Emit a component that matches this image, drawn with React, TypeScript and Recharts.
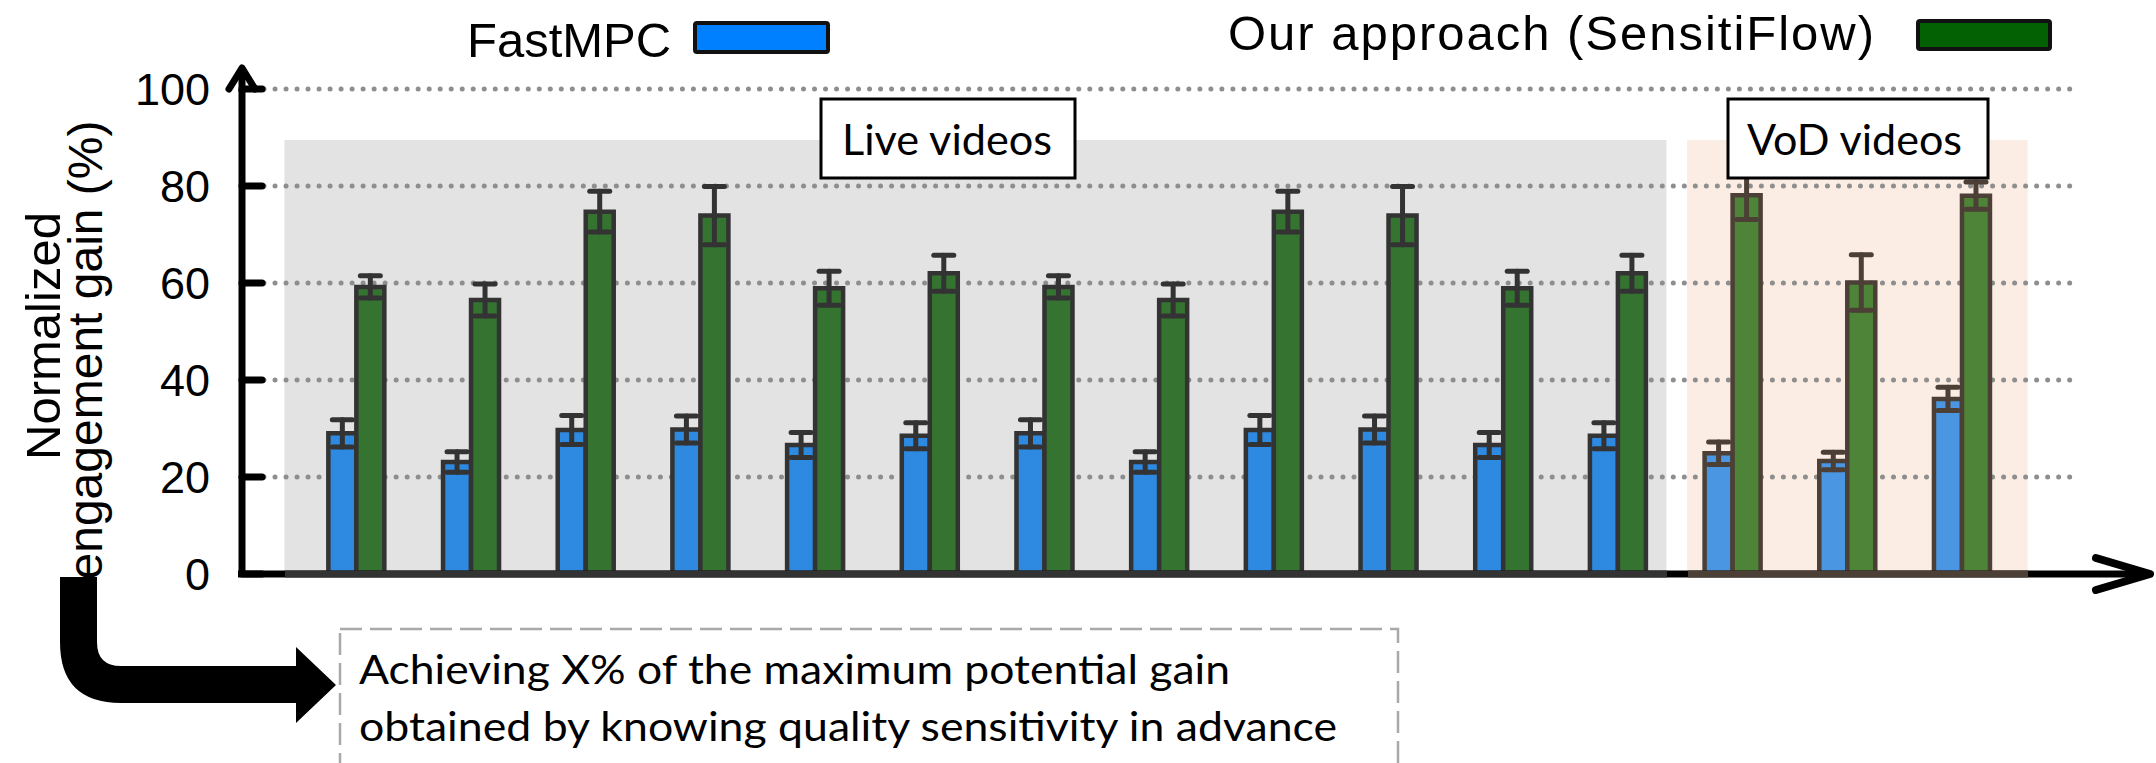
import { Bar, BarChart, CartesianGrid, Cell, ErrorBar, ReferenceArea, XAxis, YAxis } from "recharts";

// 12 live videos followed by 3 VoD videos
const videos = ["L1", "L2", "L3", "L4", "L5", "L6", "L7", "L8", "L9", "L10", "L11", "L12", "V1", "V2", "V3"];
const videoKinds = ["live", "live", "live", "live", "live", "live", "live", "live", "live", "live", "live", "live", "vod", "vod", "vod"];

const fastMpc = [29.0, 23.1, 29.7, 29.8, 26.6, 28.5, 29.0, 23.1, 29.7, 29.8, 26.6, 28.5, 24.9, 23.3, 36.1];
const fastMpcErr = [2.8, 2.1, 3.0, 2.8, 2.6, 2.7, 2.8, 2.1, 3.0, 2.8, 2.6, 2.7, 2.3, 1.8, 2.4];
const sensitiFlow = [59.2, 56.5, 74.7, 73.9, 58.9, 62.0, 59.2, 56.5, 74.7, 73.9, 58.9, 62.0, 78.1, 60.1, 78.0];
const sensitiFlowErr = [2.3, 3.3, 4.2, 6.0, 3.5, 3.7, 2.3, 3.3, 4.2, 6.0, 3.5, 3.7, 5.0, 5.7, 2.8];

const yTicks = [0, 20, 40, 60, 80, 100];

const LIVE_BLUE = "#2e89e0";
const LIVE_GREEN = "#347430";
const LIVE_STROKE = "#333333";
const VOD_BLUE = "#4a96e2";
const VOD_GREEN = "#4e8437";
const VOD_STROKE = "#4b3f36";

const AXIS_FONT = "'Liberation Sans', Arial, Helvetica, sans-serif";
const NOTE_FONT = "Lato, 'Open Sans', sans-serif";

const data = videos.map((name, i) => {
  const vod = videoKinds[i] === "vod";
  return {
    name,
    idx: i,
    vod,
    fast: fastMpc[i],
    ours: sensitiFlow[i],
    fastErrLive: vod ? null : fastMpcErr[i],
    fastErrVod: vod ? fastMpcErr[i] : null,
    oursErrLive: vod ? null : sensitiFlowErr[i],
    oursErrVod: vod ? sensitiFlowErr[i] : null,
  };
});

function YTick({ x, y, payload }: { x?: number; y?: number; payload?: { value: number } }) {
  const px = x ?? 0;
  const py = y ?? 0;
  return (
    <g>
      <line x1={px + 32} x2={px + 52} y1={py} y2={py} stroke="#000" strokeWidth={7} strokeLinecap="round" />
      <text x={px} y={py} dy={16} textAnchor="end" fontSize={45} fontFamily={AXIS_FONT} fill="#000">
        {payload?.value}
      </text>
    </g>
  );
}

function Overlay() {
  return (
    <svg width={2156} height={763} style={{ position: "absolute", left: 0, top: 0, pointerEvents: "none" }}>
      {/* y axis label */}
      <g fontFamily={AXIS_FONT} fill="#000">
        <text transform="translate(60,336) rotate(-90)" textAnchor="middle" fontSize={49}>
          Normalized
        </text>
        <text transform="translate(102,350) rotate(-90)" textAnchor="middle" fontSize={48}>
          engagement gain (%)
        </text>
      </g>

      {/* axis arrows */}
      <line x1={242} y1={92} x2={242} y2={70} stroke="#000" strokeWidth={7} />
      <polyline points="229,89 242,68 255,89" fill="none" stroke="#000" strokeWidth={7} strokeLinecap="round" strokeLinejoin="round" />
      <line x1={238} y1={574} x2={2148} y2={574} stroke="#000" strokeWidth={7} />
      <line x1={285} y1={574} x2={1667} y2={574} stroke={LIVE_STROKE} strokeWidth={7} />
      <line x1={1688} y1={574} x2={2028} y2={574} stroke={VOD_STROKE} strokeWidth={7} />
      <polyline points="2096,558 2150,574 2096,590" fill="none" stroke="#000" strokeWidth={8} strokeLinecap="round" strokeLinejoin="round" />

      {/* legend */}
      <text x={467} y={57} fontSize={49} fontFamily={AXIS_FONT} fill="#000">
        FastMPC
      </text>
      <rect x={695} y={23} width={133} height={29} rx={2} fill="#0080ff" stroke="#111" strokeWidth={4} />
      <text x={1228} y={50} fontSize={49} fontFamily={AXIS_FONT} fill="#000" textLength={646} lengthAdjust="spacing">
        Our approach (SensitiFlow)
      </text>
      <rect x={1918} y={21} width={132} height={28} rx={2} fill="#036003" stroke="#111" strokeWidth={4} />

      {/* region labels */}
      <rect x={821} y={99} width={254} height={79} fill="#fff" stroke="#000" strokeWidth={3} />
      <text x={842} y={155} fontSize={42} fontFamily={NOTE_FONT} fill="#000" textLength={210} lengthAdjust="spacingAndGlyphs">
        Live videos
      </text>
      <rect x={1728} y={99} width={260} height={79} fill="#fff" stroke="#000" strokeWidth={3} />
      <text x={1747} y={155} fontSize={42} fontFamily={NOTE_FONT} fill="#000" textLength={215} lengthAdjust="spacingAndGlyphs">
        VoD videos
      </text>

      {/* curved arrow + note */}
      <path d="M60 577 L97 577 L97 642 Q97 666 121 666 L296 666 L296 647 L336 685 L296 723 L296 703 L121 703 Q60 703 60 642 Z" fill="#000" />
      <rect x={340} y={629} width={1058} height={200} fill="none" stroke="#a9a9a9" strokeWidth={2.5} strokeDasharray="22 8" />
      <g fontFamily={NOTE_FONT} fontSize={40} fill="#000">
        <text x={359} y={684} textLength={871} lengthAdjust="spacingAndGlyphs">
          Achieving X% of the maximum potential gain
        </text>
        <text x={359} y={741} textLength={978} lengthAdjust="spacingAndGlyphs">
          obtained by knowing quality sensitivity in advance
        </text>
      </g>
    </svg>
  );
}

export default function App() {
  return (
    <div style={{ position: "absolute", left: 0, top: 0, width: 2156, height: 763, background: "#fff" }}>
      <BarChart
        width={2156}
        height={763}
        data={data}
        margin={{ top: 89, right: 79, bottom: 189, left: 142 }}
        barSize={28}
        barGap={0}
      >
        <ReferenceArea x1={-0.63} x2={11.42} y1={0} y2={89.5} fill="#e3e3e3" fillOpacity={1} stroke="none" zIndex={-200} />
        <ReferenceArea x1={11.6} x2={14.57} y1={0} y2={89.5} fill="#fbede3" fillOpacity={1} stroke="none" zIndex={-200} />
        <CartesianGrid
          vertical={false}
          stroke="#8e8e8e"
          strokeWidth={5}
          strokeDasharray="0.01 11"
          strokeLinecap="round"
          zIndex={-100}
        />
        <XAxis type="number" dataKey="idx" domain={[-1, 15]} ticks={videos.map((_, i) => i)} hide />
        <YAxis
          type="number"
          domain={[0, 100]}
          ticks={yTicks}
          interval={0}
          width={100}
          axisLine={{ stroke: "#000", strokeWidth: 7 }}
          tickLine={false}
          tickSize={0}
          tickMargin={32}
          tick={<YTick />}
        />
        <Bar dataKey="fast" name="FastMPC" fill={LIVE_BLUE} stroke={LIVE_STROKE} strokeWidth={4.5} isAnimationActive={false}>
          {data.map((d) => (
            <Cell key={d.name} fill={d.vod ? VOD_BLUE : LIVE_BLUE} stroke={d.vod ? VOD_STROKE : LIVE_STROKE} />
          ))}
          <ErrorBar dataKey="fastErrLive" width={10} stroke={LIVE_STROKE} strokeWidth={5} strokeLinecap="round" />
          <ErrorBar dataKey="fastErrVod" width={10} stroke={VOD_STROKE} strokeWidth={5} strokeLinecap="round" />
        </Bar>
        <Bar dataKey="ours" name="Our approach (SensitiFlow)" fill={LIVE_GREEN} stroke={LIVE_STROKE} strokeWidth={4.5} isAnimationActive={false}>
          {data.map((d) => (
            <Cell key={d.name} fill={d.vod ? VOD_GREEN : LIVE_GREEN} stroke={d.vod ? VOD_STROKE : LIVE_STROKE} />
          ))}
          <ErrorBar dataKey="oursErrLive" width={10} stroke={LIVE_STROKE} strokeWidth={5} strokeLinecap="round" />
          <ErrorBar dataKey="oursErrVod" width={10} stroke={VOD_STROKE} strokeWidth={5} strokeLinecap="round" />
        </Bar>
      </BarChart>
      <Overlay />
    </div>
  );
}
